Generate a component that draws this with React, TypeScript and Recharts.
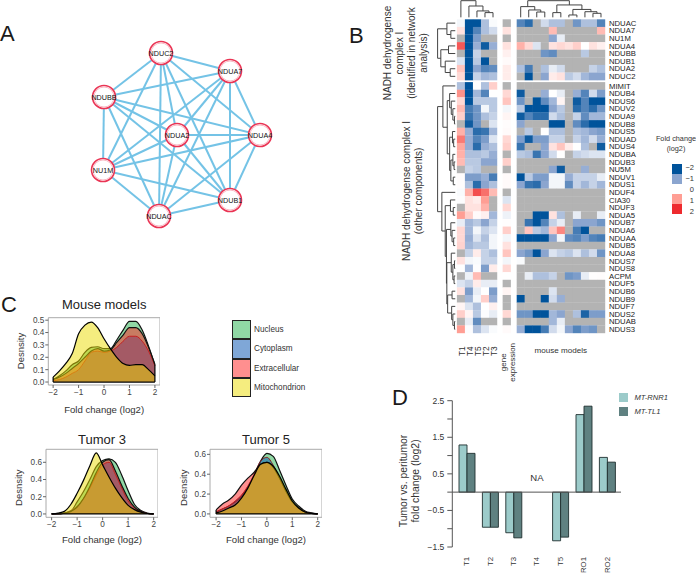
import React from 'react'
import {
  AreaChart, Area, BarChart, Bar, ScatterChart, Scatter, XAxis, YAxis, Label,
  ReferenceArea, ReferenceDot, ReferenceLine
} from 'recharts'

const FONT = '"Liberation Sans", Arial, sans-serif'

// ---- panel A: network
const nodeNames = ['NDUC2', 'NDUA7', 'NDUBB', 'NDUA2', 'NDUA4', 'NU1M', 'NDUB1', 'NDUAC']
const nodeX = [161, 230, 104, 177, 260, 103, 230, 159]
const nodeY = [53, 71, 97, 135, 135, 170, 200, 216]

// ---- panel B: heatmap
const n = null
const rowNames = [
  'NDUAC', 'NDUA7', 'NU1M', 'NDUA4', 'NDUBB', 'NDUB1', 'NDUA2', 'NDUC2',
  'MIMIT', 'NDUB4', 'NDUS6', 'NDUV2', 'NDUA9', 'NDUB8', 'NDUS5', 'NDUAD', 'NDUS4',
  'NDUBA', 'NDUB3', 'NU5M', 'NDUV1', 'NDUS1', 'NDUF4', 'CIA30', 'NDUF3', 'NDUA5',
  'NDUB7', 'NDUA6', 'NDUAA', 'NDUB5', 'NDUA8', 'NDUS7', 'NDUS8', 'ACPM', 'NDUF5',
  'NDUB6', 'NDUB9', 'NDUF7', 'NDUS2', 'NDUAB', 'NDUS3'
]
const tumorCols = ['T1', 'T4', 'T5', 'T2', 'T3']
const tumorValues = [
  [-0.1, -2, -2, -0.7, -0.05], [0.3, -2, -1.4, -0.7, -0.4], [n, -2, -1.1, n, n],
  [1.6, -2, -0.9, -1.9, -0.9], [n, -2, -0.5, n, n], [-0.3, -2, -0.6, -2, n],
  [0.6, -2, -1, -1.4, -1.3], [0.4, -2, -0.5, -0.8, -0.7],
  [-0.7, -2, 0, -0.7, 0.5], [1.1, -2, -0.8, -1.4, 0], [0.4, -2, -0.6, -0.6, -0.6],
  [0.7, -1.5, -1.2, -0.1, -0.6], [0.5, -1.6, -1.2, -0.7, -0.5], [n, -1.9, -1.2, n, -0.3],
  [0.8, -0.9, -1.7, -1.6, -0.8], [1.3, -0.9, -1.4, -1.1, -0.3], [0.9, -0.9, -1.7, -0.9, -0.7],
  [0.8, -0.7, -0.7, -0.6, -0.9], [0.7, -0.6, -0.6, -1, -1], [n, -0.5, -0.6, n, n],
  [0.03, -1.1, -1.1, -0.9, -1.5], [0.03, -0.7, -1.7, -1, -0.7], [-0.05, 0.8, 1.7, 1.4, 0.7],
  [-0.02, 0.3, 0.2, 1, n], [n, 0.3, 0.3, 0.8, n], [1, 0.5, 0.05, 0.15, -0.8],
  [-0.2, -0.8, -0.6, -1, -0.5], [0.4, -0.8, -0.1, -0.5, -0.3], [0.4, -0.9, -0.3, -0.7, -0.1],
  [0.45, -0.8, -0.6, -0.6, -0.1], [n, -0.5, 0.2, -0.5, -0.7], [0.3, -0.1, -0.05, -0.5, -0.5],
  [0, -0.8, -0.02, -1.1, 0.2], [n, -0.15, 0.7, n, n], [-0.3, -0.5, 0.2, -0.2, -0.2],
  [0.3, -1.1, -0.2, 0, -1.1], [n, -0.8, -0.1, 0.5, -0.9], [0.1, -0.3, -0.7, 0, 0.15],
  [0.5, 0.1, -0.6, -0.03, -0.2], [n, -0.2, -1.3, n, n], [1, -0.03, -0.7, -0.3, -0.05]
]
const geneValues = [
  n, 0.3, n, 0.3, 0.15, 0.05, 0.2, 0.2, n, 0.4, 0.6, -0.1, 0.1, 0.03, 0.05, 0.4, 0.5, n, 0.5, n,
  0.05, 0.05, n, -0.3, 0.4, -0.15, 0.02, 0.5, -0.1, 0.3, 0.6, -0.1, 0.4, 0, n, 0.1, n, n, 0.4, n, 0.05
]
const mouseValues = [
  [-1.4, -1.7, n, -0.4, -0.7, -0.7, n, -1.2, -0.7, -0.7, -1.4],
  [n, n, n, n, 0.7, n, n, n, n, n, 0.7],
  [n, n, n, n, -1, -0.2, n, n, n, n, n],
  [0.8, 0.4, -0.3, n, 0.3, 0.4, 0.3, 0.5, 0, 0.3, 0.15],
  [n, n, n, -1.2, -1.3, n, n, n, -0.6, n, n],
  [n, n, n, n, n, n, n, n, n, n, n],
  [-0.7, -1.5, n, -0.7, -0.2, -0.4, n, n, n, -0.5, -0.7],
  [n, -2, n, -1, 0.2, 0.3, -0.6, -0.4, -0.8, -1, -1],
  [n, n, n, n, n, n, n, n, n, n, n],
  [-1.9, n, n, -0.9, 0, -0.2, n, -0.9, -1.4, -0.4, -1.1],
  [-1.2, n, -2, -1.3, -0.8, 0.1, n, -1.9, -1.4, -2, -2],
  [-0.6, -2, -2, -2, -1, -0.6, n, -1.7, -1.4, -1.7, -1.2],
  [-1.9, -1.4, -1.7, -1.7, -0.4, -0.7, n, -0.5, -1.3, -0.8, -0.8],
  [-1, n, n, n, -2, -2, n, -1.3, -1.7, -2, -2],
  [n, -0.6, n, 0, -0.7, -0.7, n, -0.7, -0.8, -1, -1.1],
  [-1.1, -1.9, -1.1, -1.1, -0.5, -0.5, n, -0.5, -0.8, -0.4, -0.9],
  [-1.6, n, n, -1, 0.3, 0.6, 0.2, 0, -0.7, n, -1.9],
  [-0.6, -0.7, -1.6, -1, -0.4, 0, n, -0.5, -0.4, -0.3, -0.3],
  [n, n, n, n, n, n, n, n, n, n, n],
  [n, n, n, n, -1, -1.9, n, n, -0.9, n, n],
  [-2, -0.6, -1.1, -1.1, -0.1, -0.1, -0.9, -0.5, -0.5, -0.5, -0.2],
  [-1, -1.6, -1.7, -1, -0.1, -0.1, -1.3, -0.5, -0.8, -0.5, -0.8],
  [n, n, n, n, n, n, n, n, n, n, n],
  [n, n, n, n, n, n, n, n, n, n, n],
  [n, n, n, n, n, n, n, n, n, n, n],
  [n, n, -2, -2, 0.3, -0.7, n, -0.2, n, n, -0.2],
  [n, -1.6, -2, -1.4, -0.5, -0.2, n, -1, -1, -1, -1.2],
  [n, 0.6, -0.6, -0.8, 0.6, 1.2, n, -1.5, -2, n, n],
  [-2, -2, -2, -2, -1, -0.1, -1.3, -1.4, -1.1, -1.4, -1.5],
  [n, n, n, n, n, n, n, n, n, n, n],
  [-1, -1.2, -2, -1, -0.3, -0.5, -0.6, -0.3, -0.7, -0.4, -1.2],
  [-0.05, n, n, n, n, n, n, n, n, n, n],
  [n, n, n, n, n, n, n, n, n, n, n],
  [n, -0.2, -0.7, -0.7, -0.5, n, -1.2, -1.1, -0.2, 0.02, 0.03],
  [n, n, n, n, n, n, n, n, n, n, n],
  [n, n, n, n, -0.3, n, n, n, n, n, n],
  [-2, n, n, -2, -0.4, -0.9, n, n, n, n, n],
  [n, n, n, n, n, n, n, n, n, n, n],
  [-1.2, -1.2, -2, -2, -0.8, -1, n, -0.7, -1.8, -1.1, -1.1],
  [n, n, n, n, -0.8, -0.2, n, n, n, n, n],
  [-0.9, -2, -2, -1.5, -0.4, -0.1, -1, -1.4, -1.1, -1.2, n]
]
const legendSteps = [-2, -1, 0, 1, 2]

// dendrograms: [merge height, left, right], a plain number is a leaf index
type Tree = number | [number, Tree, Tree]
const tumorTree: Tree = [2.45, 0, [1.75, 1, [1.1, 2, [0.88, 3, 4]]]]
const mouseTree: Tree = [2.45,
  [1.67, 0, [1.23, 1, [0.96, 2, 3]]],
  [1.89, [0.88, 4, 5], [1.3, [0.57, 6, 7], [1.0, 8, [0.79, 9, 10]]]]
]
const rowTreeTop: Tree = [2.4, [1.24, 0, [0.75, 1, 2]], [2.0, [1.04, 3, 4], [1.45, 5, [0.83, 6, 7]]]]
const rowTreeBottom: Tree = [2.4,
  [1.74, 8, [1.2,
    [0.9, 9, [0.7, 10, [0.5, 11, [0.3, 12, 13]]]],
    [0.9, [0.55, 14, [0.4, 15, 16]], [0.75, [0.5, 17, [0.35, 18, 19]], [0.45, 20, 21]]]
  ]],
  [1.87, 22, [1.45, [0.8, 23, [0.45, 24, 25]], [1.3,
    [0.75, 26, [0.6, 27, [0.4, 28, 29]]],
    [1.25,
      [0.7, 30, [0.5, [0.3, 31, 32], [0.35, 33, 34]]],
      [1.15, [0.6, 35, 36], [0.65, 37, [0.5, 38, [0.3, 39, 40]]]]
    ]
  ]]]
]

// ---- panel C: densities
const foldX = [-2, -1.75, -1.5, -1.25, -1, -0.75, -0.5, -0.25, 0, 0.25, 0.5, 0.75, 1, 1.25, 1.5, 1.75, 2]
const mouseNucleus = [0.02, 0.05, 0.09, 0.14, 0.17, 0.24, 0.28, 0.285, 0.27, 0.27, 0.34, 0.42, 0.49, 0.49, 0.42, 0.29, 0.14]
const mouseCytoplasm = [0.01, 0.02, 0.04, 0.07, 0.1, 0.17, 0.24, 0.25, 0.24, 0.25, 0.28, 0.33, 0.37, 0.37, 0.33, 0.25, 0.13]
const mouseExtracellular = [0.02, 0.04, 0.07, 0.11, 0.15, 0.2, 0.25, 0.27, 0.25, 0.26, 0.32, 0.38, 0.44, 0.44, 0.39, 0.28, 0.14]
const mouseMito = [0.04, 0.09, 0.15, 0.23, 0.39, 0.46, 0.485, 0.44, 0.35, 0.27, 0.2, 0.15, 0.135, 0.14, 0.14, 0.1, 0.05]
const t3Nucleus = [0, 0.005, 0.01, 0.03, 0.14, 0.26, 0.4, 0.55, 0.62, 0.64, 0.6, 0.45, 0.27, 0.11, 0.04, 0.01, 0]
const t3Cytoplasm = [0, 0, 0.01, 0.04, 0.09, 0.18, 0.3, 0.45, 0.57, 0.6, 0.46, 0.3, 0.15, 0.07, 0.03, 0.005, 0]
const t3Extracellular = [0, 0, 0.01, 0.03, 0.08, 0.18, 0.32, 0.48, 0.6, 0.63, 0.5, 0.33, 0.18, 0.08, 0.03, 0.005, 0]
const t3Mito = [0, 0.01, 0.03, 0.11, 0.24, 0.39, 0.56, 0.71, 0.57, 0.43, 0.3, 0.19, 0.1, 0.05, 0.02, 0.005, 0]
const t5Nucleus = [0.02, 0.05, 0.08, 0.12, 0.18, 0.27, 0.39, 0.53, 0.61, 0.58, 0.44, 0.29, 0.15, 0.08, 0.03, 0.01, 0]
const t5Cytoplasm = [0.02, 0.05, 0.08, 0.13, 0.19, 0.28, 0.4, 0.53, 0.57, 0.49, 0.36, 0.23, 0.12, 0.06, 0.02, 0.005, 0]
const t5Extracellular = [0.04, 0.1, 0.14, 0.2, 0.29, 0.36, 0.42, 0.5, 0.52, 0.47, 0.36, 0.23, 0.12, 0.06, 0.02, 0.005, 0]
const t5Mito = [0.01, 0.03, 0.06, 0.09, 0.16, 0.26, 0.39, 0.5, 0.52, 0.48, 0.38, 0.25, 0.13, 0.06, 0.02, 0.005, 0]
const compartments = ['Nucleus', 'Cytoplasm', 'Extracellular', 'Mitochondrion']
const compartmentFill = ['#22b14c', '#0050b0', '#ff2020', '#ecdc00']
const compartmentLine = ['#111', '#8a2020', '#111', '#000']

// ---- panel D: bars
const sampleNames = ['T1', 'T2', 'T3', 'T4', 'T5', 'RO1', 'RO2']
const rnr1Values = [1.29, -0.96, -1.11, n, -1.33, 2.12, 0.95]
const tl1Values = [1.06, -0.96, -1.25, n, -1.23, 2.35, 0.82]
const barTicks = [-1.5, -1, -0.5, 0, 0.5, 1, 1.5, 2, 2.5]
const barLabelled = [-1.5, -0.5, 0.5, 1.5, 2.5]

const GRAY = '#b3b3b3'
const colorStops: [number, number[]][] = [
  [-2, [0, 83, 155]], [-1, [139, 165, 207]], [0, [255, 255, 255]], [1, [255, 158, 148]], [2, [238, 42, 46]]
]
const heatColor = (v: number | null) => {
  if (v === null) return GRAY
  const c = Math.max(-2, Math.min(2, v))
  const i = Math.min(3, Math.floor(c + 2))
  const t = c - colorStops[i][0]
  const rgb = colorStops[i][1].map((a, k) => Math.round(a + (colorStops[i + 1][1][k] - a) * t))
  return `rgb(${rgb.join(',')})`
}
const minusSign = (s: string) => s.replace('-', '−')

const treePaths = (tree: Tree, leafPos: (i: number) => number, leafH: number) => {
  const paths: number[][][] = []
  const walk = (t: Tree): { pos: number; h: number } => {
    if (typeof t === 'number') return { pos: leafPos(t), h: leafH }
    const l = walk(t[1])
    const r = walk(t[2])
    paths.push([[l.pos, l.h], [l.pos, t[0]], [r.pos, t[0]], [r.pos, r.h]])
    return { pos: (l.pos + r.pos) / 2, h: t[0] }
  }
  walk(tree)
  return paths
}

const NoDot = () => <g />

const Place = ({ left, top, children }: any) => (
  <div style={{ position: 'absolute', left, top }}>{children}</div>
)

const Letter = ({ left, top, children }: any) => (
  <div style={{ position: 'absolute', left, top, fontSize: 22, lineHeight: 1, color: '#1a1a1a' }}>{children}</div>
)

const SideTitle = ({ cx, cy, lines }: any) => (
  <div style={{
    position: 'absolute', left: cx, top: cy, width: 0, height: 0,
    transform: 'rotate(-90deg)', display: 'flex', justifyContent: 'center', alignItems: 'center'
  }}>
    <div style={{ whiteSpace: 'nowrap', textAlign: 'center', fontSize: 10, lineHeight: '12px', color: '#333' }}>
      {lines.map((l: string) => <div key={l}>{l}</div>)}
    </div>
  </div>
)

// ---- panel A
const nodeRows = nodeNames.map((name, i) => ({ x: nodeX[i], y: nodeY[i], name }))
const NetworkNode = ({ cx, cy, payload }: any) => (
  <g>
    <circle cx={cx} cy={cy} r={11.5} fill="#fff" stroke="#ea3454" strokeWidth={1.6} />
    <circle cx={cx} cy={cy} r={10} fill="#fff" stroke="#f9b9c4" strokeWidth={1} />
    <text x={cx} y={cy} textAnchor="middle" dominantBaseline="central" fontSize={7.2} fill="#111">{payload.name}</text>
  </g>
)
const NetworkPanel = () => {
  const edges = nodeRows.flatMap((a, i) => nodeRows.slice(i + 1).map((b) => [a, b]))
  return (
    <ScatterChart width={340} height={280} margin={{ top: 0, right: 0, bottom: 0, left: 0 }}>
      <XAxis type="number" dataKey="x" domain={[0, 340]} hide />
      <YAxis type="number" dataKey="y" domain={[0, 280]} reversed hide />
      {edges.map((pair, i) => (
        <Scatter key={i} data={pair} line={{ stroke: '#74c3e6', strokeWidth: 2 }} shape={NoDot} isAnimationActive={false} />
      ))}
      <Scatter data={nodeRows} shape={NetworkNode} isAnimationActive={false} />
    </ScatterChart>
  )
}

// ---- panel B
const CELL_W = 8.03
const CELL_H = 7.6
const GENE_POS = 6.2
const MOUSE_START = 7.45
const MOUSE_TICK = 12.95
const rowCenter = (i: number) => i + 0.5 + (i >= 8 ? 0.26 : 0)
const tumorPos = (i: number) => i + 0.5
const mousePos = (i: number) => MOUSE_START + i + 0.5

const heatCells = rowNames.flatMap((_, r) => [
  ...tumorValues[r].map((value, c) => ({ x: tumorPos(c), y: rowCenter(r), value })),
  { x: GENE_POS, y: rowCenter(r), value: geneValues[r] },
  ...mouseValues[r].map((value, c) => ({ x: mousePos(c), y: rowCenter(r), value }))
])
const toPoints = (paths: number[][][], horizontal: boolean) =>
  paths.map((p) => p.map(([pos, h]) => (horizontal ? { x: -h, y: pos } : { x: pos, y: -h })))
const heatTrees = [
  ...toPoints(treePaths(tumorTree, tumorPos, 0.26), false),
  ...toPoints(treePaths(mouseTree, mousePos, 0.26), false),
  ...toPoints(treePaths(rowTreeTop, rowCenter, 0.2), true),
  ...toPoints(treePaths(rowTreeBottom, rowCenter, 0.2), true)
]

const HeatCell = ({ cx, cy, payload }: any) => (
  <rect x={cx - CELL_W / 2} y={cy - CELL_H / 2} width={CELL_W + 0.2} height={CELL_H + 0.2} fill={heatColor(payload.value)} />
)

const HeatTick = ({ x, y, payload }: any) => {
  const v = payload.value
  if (v === GENE_POS) {
    return (
      <g fontSize={8} fill="#333">
        <text x={x - 3} y={y + 21} transform={`rotate(-90 ${x - 3} ${y + 21})`} textAnchor="middle" dominantBaseline="central">gene</text>
        <text x={x + 6} y={y + 21} transform={`rotate(-90 ${x + 6} ${y + 21})`} textAnchor="middle" dominantBaseline="central">expression</text>
      </g>
    )
  }
  if (v === MOUSE_TICK) {
    return <text x={x} y={y + 9} textAnchor="middle" dominantBaseline="central" fontSize={8.1} fill="#333">mouse models</text>
  }
  const label = tumorCols[Math.floor(v)]
  return <text x={x + 1} y={y + 5} transform={`rotate(-90 ${x + 1} ${y + 5})`} textAnchor="end" dominantBaseline="central" fontSize={8.3} fill="#333">{label}</text>
}

const HeatmapPanel = () => (
  <ScatterChart width={219} height={384} margin={{ top: 0, right: 0, bottom: 0, left: 0 }}>
    <XAxis
      type="number" dataKey="x" domain={[-2.6, 18.45]} height={50.7} interval={0}
      ticks={[...tumorCols.map((_, i) => tumorPos(i)), GENE_POS, MOUSE_TICK]}
      axisLine={false} tickLine={false} tick={HeatTick}
    />
    <YAxis
      type="number" dataKey="y" domain={[-2.54, 41.3]} reversed orientation="right" width={50}
      ticks={rowNames.map((_, i) => rowCenter(i))} interval={0} axisLine={false} tickLine={false}
      tickMargin={-2} tickFormatter={(v: number) => rowNames[Math.round(v - 0.5 - (v > 8 ? 0.26 : 0))]}
      tick={{ fontSize: 7.7, fill: '#222' }}
    />
    <Scatter data={heatCells} shape={HeatCell} isAnimationActive={false} />
    {heatTrees.map((pts, i) => (
      <Scatter key={i} data={pts} line={{ stroke: '#444', strokeWidth: 1 }} shape={NoDot} isAnimationActive={false} />
    ))}
  </ScatterChart>
)

const HeatLegend = () => (
  <>
    <div style={{ position: 'absolute', left: 650, top: 134, width: 52, textAlign: 'center', fontSize: 7.3, lineHeight: '9.5px', color: '#333' }}>
      Fold change<br />(log2)
    </div>
    {legendSteps.map((v, i) => (
      <React.Fragment key={v}>
        {v !== 0 && (
          <div style={{ position: 'absolute', left: 672, top: 164 + i * 10.1, width: 9.5, height: 10, background: heatColor(v) }} />
        )}
        <div style={{ position: 'absolute', left: 684, top: 162.5 + i * 11, fontSize: 7.5, lineHeight: '9px', color: '#333', width: 10, textAlign: 'right' }}>
          {minusSign(String(v))}
        </div>
      </React.Fragment>
    ))}
  </>
)

// ---- panel C
const densityTable = (series: number[][]) =>
  foldX.map((x, i) => ({ x, nucleus: series[0][i], cytoplasm: series[1][i], extracellular: series[2][i], mito: series[3][i] }))
const densityKeys = ['nucleus', 'cytoplasm', 'extracellular', 'mito']

const DensityPanel = ({ series, title, titleOffset, width, height, plotLeft, plotTop, xDomain, yDomain, yTicks, yTitleX, yTitleY, plotH }: any) => {
  const lastIdx = foldX.length - 1
  const leftTop = Math.max(...series.map((s: number[]) => s[0]))
  const rightTop = Math.max(...series.map((s: number[]) => s[lastIdx]))
  return (
    <AreaChart width={width} height={height} data={densityTable(series)} margin={{ top: plotTop, right: 0, bottom: 0, left: 0 }}>
      <XAxis
        type="number" dataKey="x" domain={xDomain} ticks={[-2, -1, 0, 1, 2]} height={height - plotTop - plotH} interval={0}
        tickSize={3} tickMargin={1} axisLine={false} tick={{ fontSize: 8.2, fill: '#444' }} tickLine={{ stroke: '#666' }}
        tickFormatter={(v: number) => minusSign(String(v))}
        label={{ value: 'Fold change (log2)', position: 'insideBottom', offset: 2, fontSize: 9.6, fill: '#333' }}
      />
      <YAxis
        type="number" domain={yDomain} ticks={yTicks} width={plotLeft} tickSize={3} tickMargin={1} interval={0}
        axisLine={false} tick={{ fontSize: 8.2, fill: '#444' }} tickLine={{ stroke: '#666' }}
        tickFormatter={(v: number) => v.toFixed(1)}
      >
        <Label content={() => (
          <text x={yTitleX} y={yTitleY} transform={`rotate(-90 ${yTitleX} ${yTitleY})`} textAnchor="middle" dominantBaseline="central" fontSize={9.5} fill="#333">Desnsity</text>
        )} />
      </YAxis>
      {densityKeys.map((key, i) => (
        <Area
          key={key} dataKey={key} type="monotone" stroke={compartmentLine[i]} strokeWidth={i === 1 ? 1 : 1.2}
          fill={compartmentFill[i]} fillOpacity={0.5} dot={false} activeDot={false} isAnimationActive={false}
        />
      ))}
      <ReferenceLine segment={[{ x: -2, y: 0 }, { x: 2, y: 0 }]} stroke="#000" strokeWidth={1.2} />
      <ReferenceLine segment={[{ x: -2, y: 0 }, { x: -2, y: leftTop }]} stroke="#000" strokeWidth={1.2} />
      <ReferenceLine segment={[{ x: 2, y: 0 }, { x: 2, y: rightTop }]} stroke="#000" strokeWidth={1.2} />
      <ReferenceArea
        x1={xDomain[0]} x2={xDomain[1]} y1={yDomain[0]} y2={yDomain[1]} fill="none" stroke="#aaa" strokeWidth={1}
        label={{ value: title, position: 'top', offset: titleOffset, fontSize: 13, fill: '#222' }}
      />
    </AreaChart>
  )
}

const DensityLegend = () => (
  <>
    {compartments.map((name, i) => (
      <React.Fragment key={name}>
        <div style={{
          position: 'absolute', left: 232, top: 320 + i * 19.35, width: 19, height: 19.4, boxSizing: 'border-box',
          border: '1.3px solid #222', background: compartmentFill[i] + '80'
        }} />
        <div style={{ position: 'absolute', left: 254, top: 325 + i * 19.35, fontSize: 8.2, lineHeight: '10px', color: '#333', whiteSpace: 'nowrap' }}>{name}</div>
      </React.Fragment>
    ))}
  </>
)

// ---- panel D
const barRows = sampleNames.map((name, i) => ({ name, rnr1: rnr1Values[i], tl1: tl1Values[i] }))
const BarTick = ({ x, y, payload }: any) => (
  <text x={x} y={y + 2} transform={`rotate(-90 ${x} ${y + 2})`} textAnchor="end" dominantBaseline="central" fontSize={7.8} fill="#333">{payload.value}</text>
)
const barTitle = (text: string, x: number) => (
  <Label content={() => (
    <text x={x} y={86} transform={`rotate(-90 ${x} 86)`} textAnchor="middle" dominantBaseline="central" fontSize={10.4} fill="#333">{text}</text>
  )} />
)
const BarPanel = () => (
  <BarChart width={226} height={178} data={barRows} barSize={8} barGap={0} margin={{ top: 5.7, right: 0, bottom: 0, left: 0 }}>
    <XAxis dataKey="name" height={26} axisLine={false} tickLine={false} interval={0} padding={{ left: 2.7, right: 2.2 }} tick={BarTick} />
    <YAxis
      type="number" domain={[-1.5, 2.5]} ticks={barTicks} width={57.3} tickSize={5} tickMargin={3} interval={0}
      stroke="#555" tick={{ fontSize: 8.5, fill: '#333' }}
      tickFormatter={(v: number) => (barLabelled.includes(v) ? minusSign(v.toFixed(1)) : '')}
    >
      {barTitle('Tumor vs. peritumor', 8)}
      {barTitle('fold change (log2)', 20.7)}
    </YAxis>
    <ReferenceLine y={0} stroke="#555" strokeWidth={1} />
    <Bar dataKey="rnr1" fill="#9ccbca" stroke="#1f2f2f" strokeWidth={0.9} isAnimationActive={false} />
    <Bar dataKey="tl1" fill="#5f8181" stroke="#1f2f2f" strokeWidth={0.9} isAnimationActive={false} />
    <ReferenceDot x="T4" y={0.41} r={0} stroke="none" fill="none" label={{ value: 'NA', fontSize: 9.5, fill: '#333' }} />
  </BarChart>
)

const BarLegend = () => (
  <>
    {[['MT-RNR1', '#9ccbca', 392.7], ['MT-TL1', '#5f8181', 406.7]].map(([name, color, top]: any) => (
      <React.Fragment key={name}>
        <div style={{ position: 'absolute', left: 619, top, width: 9, height: 9.5, background: color }} />
        <div style={{ position: 'absolute', left: 634.5, top: top + 0.5, fontSize: 7.6, lineHeight: '9px', fontStyle: 'italic', color: '#333' }}>{name}</div>
      </React.Fragment>
    ))}
  </>
)

export default function App() {
  return (
    <div style={{ position: 'absolute', left: 0, top: 0, width: 696, height: 573, overflow: 'hidden', fontFamily: FONT }}>
      <Letter left={0} top={23}>A</Letter>
      <Letter left={349} top={25}>B</Letter>
      <Letter left={1} top={294}>C</Letter>
      <Letter left={392} top={387}>D</Letter>

      <Place left={0} top={0}><NetworkPanel /></Place>

      <SideTitle cx={406} cy={53} lines={['NADH dehydrogense', 'complex I', '(identified in network', 'analysis)']} />
      <SideTitle cx={413} cy={190.7} lines={['NADH dehydrogense complex I', '(other components)']} />
      <Place left={435.8} top={0}><HeatmapPanel /></Place>
      <HeatLegend />

      <Place left={0} top={290}>
        <DensityPanel
          series={[mouseNucleus, mouseCytoplasm, mouseExtracellular, mouseMito]} title="Mouse models" titleOffset={9}
          width={160} height={125} plotLeft={48.3} plotTop={27.7} plotH={67.3}
          xDomain={[-2.19, 2.2]} yDomain={[-0.024, 0.52]} yTicks={[0, 0.1, 0.2, 0.3, 0.4, 0.5]} yTitleX={20} yTitleY={61}
        />
      </Place>
      <DensityLegend />
      <Place left={0} top={432}>
        <DensityPanel
          series={[t3Nucleus, t3Cytoplasm, t3Extracellular, t3Mito]} title="Tumor 3" titleOffset={5}
          width={158} height={113} plotLeft={46} plotTop={17.3} plotH={68}
          xDomain={[-2.22, 2.17]} yDomain={[-0.039, 0.751]} yTicks={[0, 0.2, 0.4, 0.6]} yTitleX={19} yTitleY={55.7}
        />
      </Place>
      <Place left={175} top={432}>
        <DensityPanel
          series={[t5Nucleus, t5Cytoplasm, t5Extracellular, t5Mito]} title="Tumor 5" titleOffset={5}
          width={147} height={113} plotLeft={35} plotTop={17.3} plotH={68}
          xDomain={[-2.24, 2.17]} yDomain={[-0.034, 0.651]} yTicks={[0, 0.2, 0.4, 0.6]} yTitleX={9} yTitleY={55.7}
        />
      </Place>

      <Place left={395} top={395}><BarPanel /></Place>
      <BarLegend />
    </div>
  )
}
